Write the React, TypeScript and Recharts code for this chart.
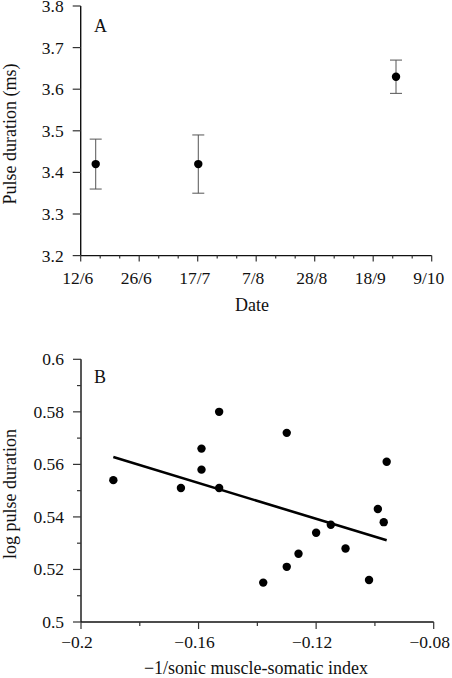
import React from 'react'
import { ScatterChart, ComposedChart, Scatter, XAxis, YAxis, ErrorBar, ReferenceLine } from 'recharts'

// Panel A: pulse duration by sampling date (x in 7-day steps from 12/6)
const dateTickLabels = ['12/6', '26/6', '17/7', '7/8', '28/8', '18/9', '9/10']
const dateTicks = [0, 1, 2, 3, 4, 5, 6, 7, 8, 9, 10, 11, 12, 13, 14, 15, 16, 17, 18]
const sampleWeek = [0.77, 6.03, 16.17]
const pulseMean = [3.42, 3.42, 3.63]
const pulseErr = [0.06, 0.07, 0.04]
const pulseTicks = [3.2, 3.3, 3.4, 3.5, 3.6, 3.7, 3.8]

// Panel B: log pulse duration vs index
const indexX = [-0.189, -0.166, -0.159, -0.159, -0.153, -0.153, -0.130, -0.138, -0.130, -0.126, -0.120, -0.115, -0.110, -0.102, -0.099, -0.097, -0.096]
const logPulse = [0.554, 0.551, 0.566, 0.558, 0.580, 0.551, 0.572, 0.515, 0.521, 0.526, 0.534, 0.537, 0.528, 0.516, 0.543, 0.538, 0.561]
const fitX = [-0.189, -0.096]
const fitY = [0.5628, 0.5311]
const indexTicks = [-0.2, -0.18, -0.16, -0.14, -0.12, -0.1, -0.08]
const indexTickLabels = ['\u22120.2', '', '\u22120.16', '', '\u22120.12', '', '\u22120.08']
const logTicks = [0.5, 0.51, 0.52, 0.53, 0.54, 0.55, 0.56, 0.57, 0.58, 0.59, 0.6]
const logTickLabels = ['0.5', '', '0.52', '', '0.54', '', '0.56', '', '0.58', '', '0.6']

const FONT = 'Liberation Serif, Times New Roman, serif'
const INK = '#111'

const dataA = sampleWeek.map((x, i) => ({ x, y: pulseMean[i], err: pulseErr[i] }))
const dataB = indexX.map((x, i) => ({ x, y: logPulse[i] }))

const Dot = (p: any) => <circle cx={p.cx} cy={p.cy} r={4.2} fill="#000" />

// plain svg label used by all tick renderers
const TickLabel = ({ x, y, anchor, children }: any) => (
  <text
    x={x}
    y={y}
    textAnchor={anchor}
    fontFamily={FONT}
    fontSize={17.5}
    fill={INK}
    style={{ fontFamily: FONT, fontSize: 17.5 }}
  >
    {children}
  </text>
)

const DateTick = (props: any) => {
  const { x, y, index } = props
  const major = index % 3 === 0
  return (
    <g>
      <line x1={x} x2={x} y1={y} y2={y + (major ? 6 : 3)} stroke="#333" strokeWidth={1.2} />
      {major && <TickLabel x={x - 3} y={y + 28} anchor="middle">{dateTickLabels[index / 3]}</TickLabel>}
    </g>
  )
}

const PulseTick = (props: any) => {
  const { x, y, payload } = props
  return (
    <g>
      <line x1={x - 8} x2={x} y1={y} y2={y} stroke="#333" strokeWidth={1.2} />
      <TickLabel x={x - 17} y={y + 6} anchor="end">{payload.value.toFixed(1)}</TickLabel>
    </g>
  )
}

const IndexTick = (props: any) => {
  const { x, y, index } = props
  const label = indexTickLabels[index]
  return (
    <g>
      <line x1={x} x2={x} y1={y} y2={y + (label ? 7 : 4)} stroke="#333" strokeWidth={1.2} />
      {label && <TickLabel x={x - 4} y={y + 26} anchor="middle">{label}</TickLabel>}
    </g>
  )
}

const LogTick = (props: any) => {
  const { x, y, index } = props
  const label = logTickLabels[index]
  return (
    <g>
      <line x1={x - (label ? 8 : 4)} x2={x} y1={y} y2={y} stroke="#333" strokeWidth={1.2} />
      {label && <TickLabel x={x - 17} y={y + 6} anchor="end">{label}</TickLabel>}
    </g>
  )
}

const textStyle: React.CSSProperties = {
  position: 'absolute',
  fontFamily: FONT,
  fontSize: 18,
  lineHeight: 1,
  color: INK,
  whiteSpace: 'nowrap',
}

const axisLine = { stroke: '#111', strokeWidth: 1.4 }

export default function App() {
  return (
    <div style={{ position: 'absolute', top: 0, left: 0, width: 452, height: 678, background: '#fff', fontFamily: FONT }}>
      <div style={{ position: 'absolute', top: 0, left: 0 }}>
        <ScatterChart width={452} height={330} margin={{ top: 6, right: 20.3, bottom: 0, left: 0 }}>
          <XAxis
            type="number"
            dataKey="x"
            domain={[0, 18]}
            ticks={dateTicks}
            interval={0}
            tickSize={0}
            tickMargin={0}
            tickLine={false}
            axisLine={axisLine}
            tick={DateTick}
            height={74.4}
          />
          <YAxis
            type="number"
            dataKey="y"
            domain={[3.2, 3.8]}
            ticks={pulseTicks}
            interval={0}
            tickSize={0}
            tickMargin={0}
            tickLine={false}
            axisLine={axisLine}
            tick={PulseTick}
            width={80.7}
          />
          <Scatter data={dataA} shape={Dot} isAnimationActive={false}>
            <ErrorBar dataKey="err" direction="y" width={6} stroke="#555" strokeWidth={1} isAnimationActive={false} />
          </Scatter>
        </ScatterChart>
      </div>

      <div style={{ position: 'absolute', top: 330, left: 0 }}>
        <ComposedChart width={452} height={348} margin={{ top: 29.3, right: 18.3, bottom: 0, left: 0 }}>
          <XAxis
            type="number"
            dataKey="x"
            domain={[-0.2, -0.08]}
            ticks={indexTicks}
            interval={0}
            tickSize={0}
            tickMargin={0}
            tickLine={false}
            axisLine={axisLine}
            tick={IndexTick}
            height={56}
          />
          <YAxis
            type="number"
            dataKey="y"
            domain={[0.5, 0.6]}
            ticks={logTicks}
            interval={0}
            tickSize={0}
            tickMargin={0}
            tickLine={false}
            axisLine={axisLine}
            tick={LogTick}
            width={81}
          />
          <ReferenceLine
            segment={[{ x: fitX[0], y: fitY[0] }, { x: fitX[1], y: fitY[1] }]}
            stroke="#000"
            strokeWidth={2.6}
            ifOverflow="visible"
          />
          <Scatter data={dataB} shape={Dot} isAnimationActive={false} />
        </ComposedChart>
      </div>

      {/* panel letters and axis titles */}
      <span style={{ ...textStyle, left: 94, top: 16.5 }}>A</span>
      <span style={{ ...textStyle, left: 94, top: 368 }}>B</span>
      <span style={{ ...textStyle, left: 252, top: 296, transform: 'translateX(-50%)' }}>Date</span>
      <span style={{ ...textStyle, left: 256, top: 659, transform: 'translateX(-50%)' }}>
        {'\u22121/sonic muscle-somatic index'}
      </span>
      <span style={{ ...textStyle, left: 10, top: 133.5, transform: 'translate(-50%, -50%) rotate(-90deg)' }}>
        Pulse duration (ms)
      </span>
      <span style={{ ...textStyle, left: 9.5, top: 494, transform: 'translate(-50%, -50%) rotate(-90deg)' }}>
        log pulse duration
      </span>
    </div>
  )
}
